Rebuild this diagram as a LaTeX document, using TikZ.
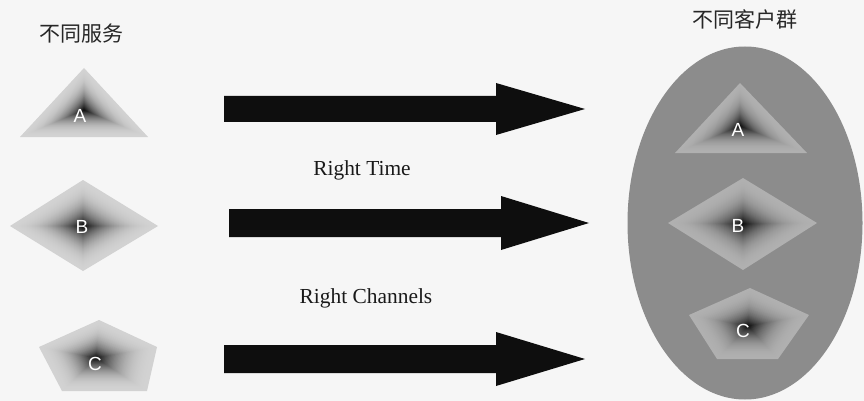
\documentclass[tikz,border=0pt]{standalone}
\usepackage{fontspec}
\setmainfont{Liberation Serif}
\newfontfamily\cjk{Noto Sans CJK SC}
\newfontfamily\arialf{Liberation Sans}
\usetikzlibrary{calc,shapes.geometric}
\definecolor{bgc}{HTML}{F6F6F6}
\definecolor{edgeL}{HTML}{D2D2D2}
\definecolor{edgeR}{HTML}{B0B0B0}
\definecolor{coreC}{HTML}{101010}
\definecolor{ellC}{HTML}{8C8C8C}
\definecolor{arrC}{HTML}{0E0E0E}
\newcommand\gradpoly[5]{%
  \foreach \i in {0,...,44}{%
    \pgfmathsetmacro\s{1-\i/45}%
    \pgfmathsetmacro\p{100*(\i/44)^2.3}%
    \fill[#5!\p!#4] ($(#1)!\s!(#2)$) \foreach \v in {#3}{ -- ($(#1)!\s!(\v)$)} -- cycle;
  }}
\newcommand\blockarrow[6]{% x1, xh, x2, yc, shaft half, head half
  \fill[arrC] (#1,#4-#5) -- (#2,#4-#5) -- (#2,#4-#6) -- (#3,#4) -- (#2,#4+#6) -- (#2,#4+#5) -- (#1,#4+#5) -- cycle;}
\begin{document}
\begin{tikzpicture}[x=1pt,y=-1pt,
  title/.style={font=\cjk\fontsize{21}{24}\selectfont, text=black!85, inner sep=0},
  lbl/.style={font=\arialf\fontsize{19}{21}\selectfont, text=white, inner sep=0},
  caption/.style={font=\fontsize{21.4}{25}\selectfont, text=black!90, inner sep=0}]
\useasboundingbox (0,0) rectangle (864,401);
\fill[bgc] (0,0) rectangle (864,401);
% titles
\node[title] (t1) at (81,34) {不同服务};
\node[title] (t2) at (745,19) {不同客户群};
% left shapes
\coordinate (ta1) at (84,68); \coordinate (ta2) at (148,137); \coordinate (ta3) at (20,137); \coordinate (tac) at (84,110);
\gradpoly{tac}{ta1}{ta2,ta3}{edgeL}{coreC}
\coordinate (da1) at (83,180); \coordinate (da2) at (158,226); \coordinate (da3) at (83,271); \coordinate (da4) at (10,226); \coordinate (dac) at (83,226);
\gradpoly{dac}{da1}{da2,da3,da4}{edgeL}{coreC}
\coordinate (pa1) at (99,320); \coordinate (pa2) at (157,347); \coordinate (pa3) at (147,391); \coordinate (pa4) at (62,391); \coordinate (pa5) at (39,347); \coordinate (pac) at (96,358);
\gradpoly{pac}{pa1}{pa2,pa3,pa4,pa5}{edgeL}{coreC}
\node[lbl] (la) at (80,116) {A};
\node[lbl] (lb) at (82,227) {B};
\node[lbl] (lc) at (95,364) {C};
% right group
\node[ellipse, fill=ellC, minimum width=235pt, minimum height=353pt, inner sep=0] (grp) at (745,223) {};
\coordinate (tb1) at (740,83); \coordinate (tb2) at (807,153); \coordinate (tb3) at (675,153); \coordinate (tbc) at (740,126);
\gradpoly{tbc}{tb1}{tb2,tb3}{edgeR}{coreC}
\coordinate (db1) at (743,178); \coordinate (db2) at (817,223); \coordinate (db3) at (743,270); \coordinate (db4) at (668,223); \coordinate (dbc) at (743,224);
\gradpoly{dbc}{db1}{db2,db3,db4}{edgeR}{coreC}
\coordinate (pb1) at (750,288); \coordinate (pb2) at (809,315); \coordinate (pb3) at (778,359); \coordinate (pb4) at (717,359); \coordinate (pb5) at (689,315); \coordinate (pbc) at (748,326);
\gradpoly{pbc}{pb1}{pb2,pb3,pb4,pb5}{edgeR}{coreC}
\node[lbl] (ra) at (738,130) {A};
\node[lbl] (rb) at (738,226) {B};
\node[lbl] (rc) at (743,331) {C};
% arrows
\blockarrow{224}{496}{585}{109}{13}{26}
\blockarrow{229}{501}{589}{223}{14}{27}
\blockarrow{224}{496}{585}{359}{14}{27}
% captions
\node[caption] (c1) at (362,170) {Right Time};
\node[caption] (c2) at (366,298) {Right Channels};
\end{tikzpicture}
\end{document}
